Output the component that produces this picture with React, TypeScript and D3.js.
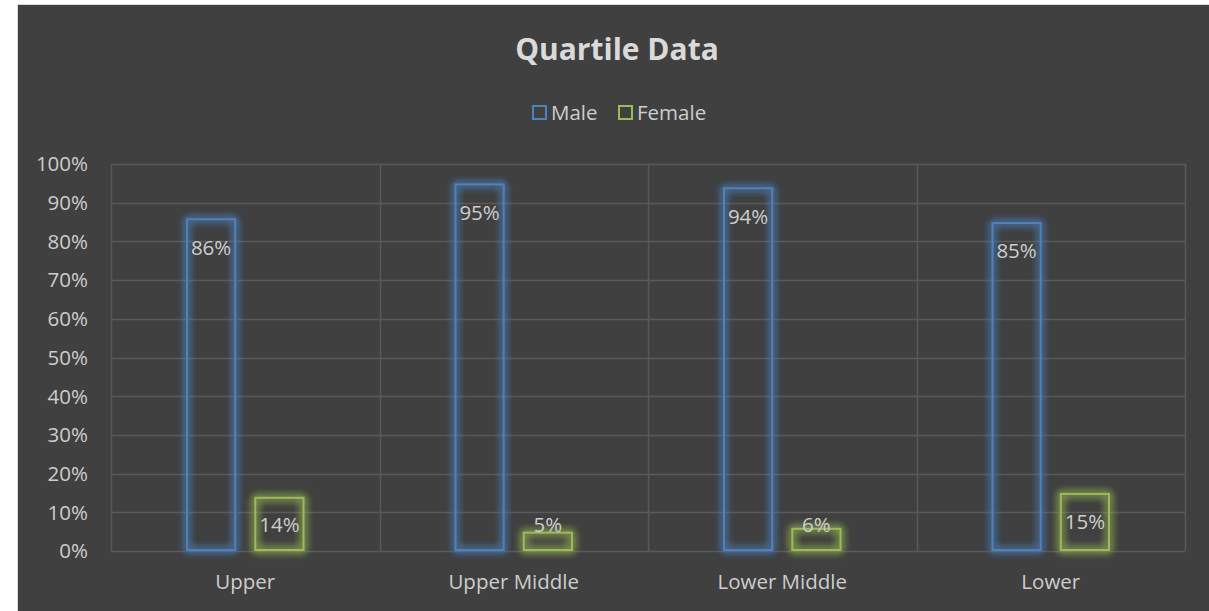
import React, { useEffect, useRef } from 'react';
import * as d3 from 'd3';

const categories = ['Upper', 'Upper Middle', 'Lower Middle', 'Lower'];
const male = [0.86, 0.95, 0.94, 0.85];
const female = [0.14, 0.05, 0.06, 0.15];
const yTicks = [0, 0.1, 0.2, 0.3, 0.4, 0.5, 0.6, 0.7, 0.8, 0.9, 1];
const seriesNames = ['Male', 'Female'];

const W = 1209;
const H = 611;
const FONT = '"Open Sans", "Segoe UI", sans-serif';
const FS = 20.5;

const App = () => {
    const ref = useRef<SVGSVGElement>(null);

    useEffect(() => {
        const svg = d3.select(ref.current);
        svg.selectAll('*').remove();

        const colors = ['#4f81bd', '#9bbb59'];
        const textColor = '#cdcdcd';
        const gridColor = '#5a5a5a';

        const defs = svg.append('defs');
        colors.forEach((c, i) => {
            const f = defs.append('filter')
                .attr('id', `glow${i}`)
                .attr('x', '-50%').attr('y', '-50%')
                .attr('width', '200%').attr('height', '200%');
            f.append('feGaussianBlur')
                .attr('in', 'SourceGraphic')
                .attr('stdDeviation', 4)
                .attr('result', 'blur');
            const m = f.append('feMerge');
            m.append('feMergeNode').attr('in', 'blur');
            m.append('feMergeNode').attr('in', 'blur');
            m.append('feMergeNode').attr('in', 'blur');
            m.append('feMergeNode').attr('in', 'SourceGraphic');
        });

        // chart area background + border
        svg.append('rect')
            .attr('x', 17.5).attr('y', 4.5)
            .attr('width', W).attr('height', H)
            .attr('fill', '#404040')
            .attr('stroke', '#d9d9d9')
            .attr('stroke-width', 1);

        const left = 111, right = 1185, top = 164, bottom = 551;

        const x = d3.scaleBand<string>()
            .domain(categories)
            .range([left, right])
            .paddingInner(0)
            .paddingOuter(0);

        const inner = d3.scaleBand<string>()
            .domain(seriesNames)
            .range([75, x.bandwidth() - 75])
            .paddingInner(0.265);

        const y = d3.scaleLinear().domain([0, 1]).range([bottom, top]);

        // horizontal gridlines
        svg.append('g').selectAll('line')
            .data(yTicks)
            .enter().append('line')
            .attr('x1', left).attr('x2', right)
            .attr('y1', d => Math.round(y(d)) + 0.5)
            .attr('y2', d => Math.round(y(d)) + 0.5)
            .attr('stroke', gridColor)
            .attr('stroke-width', 1.5);

        // vertical category dividers
        const dividers = categories.map(c => x(c) as number).concat([right]);
        svg.append('g').selectAll('line')
            .data(dividers)
            .enter().append('line')
            .attr('x1', d => Math.round(d) + 0.5)
            .attr('x2', d => Math.round(d) + 0.5)
            .attr('y1', top).attr('y2', bottom)
            .attr('stroke', gridColor)
            .attr('stroke-width', 1.5);

        // y tick labels
        svg.append('g').selectAll('text')
            .data(yTicks)
            .enter().append('text')
            .attr('x', 88)
            .attr('y', d => y(d))
            .attr('dy', '0.36em')
            .attr('text-anchor', 'end')
            .attr('fill', textColor)
            .attr('font-family', FONT)
            .attr('font-size', FS)
            .text(d => d3.format('.0%')(d));

        // category labels
        svg.append('g').selectAll('text')
            .data(categories)
            .enter().append('text')
            .attr('x', d => (x(d) as number) + x.bandwidth() / 2)
            .attr('y', 582)
            .attr('dy', '0.36em')
            .attr('text-anchor', 'middle')
            .attr('fill', textColor)
            .attr('font-family', FONT)
            .attr('font-size', FS)
            .text(d => d);

        const series = [male, female];
        series.forEach((vals, si) => {
            const g = svg.append('g');
            const bw = inner.bandwidth();
            g.selectAll('rect')
                .data(vals)
                .enter().append('rect')
                .attr('x', (d, i) => (x(categories[i]) as number) + (inner(seriesNames[si]) as number) + 1)
                .attr('y', d => y(d) + 1)
                .attr('width', bw - 2)
                .attr('height', d => y(0) - y(d) - 2)
                .attr('fill', 'none')
                .attr('stroke', colors[si])
                .attr('stroke-width', 2)
                .attr('filter', `url(#glow${si})`);

            g.selectAll('text')
                .data(vals)
                .enter().append('text')
                .attr('x', (d, i) => (x(categories[i]) as number) + (inner(seriesNames[si]) as number) + bw / 2)
                .attr('y', d => Math.min(y(d) + 29, y(0) - 26))
                .attr('dy', '0.36em')
                .attr('text-anchor', 'middle')
                .attr('fill', textColor)
                .attr('font-family', FONT)
                .attr('font-size', FS)
                .text(d => d3.format('.0%')(d));
        });

        // title
        svg.append('text')
            .attr('x', 617)
            .attr('y', 60)
            .attr('text-anchor', 'middle')
            .attr('fill', '#dadada')
            .attr('font-family', FONT)
            .attr('font-weight', 'bold')
            .attr('font-size', 30)
            .text('Quartile Data');

        // legend
        const legendX = [532, 618];
        seriesNames.forEach((name, i) => {
            svg.append('rect')
                .attr('x', legendX[i] + 1)
                .attr('y', 106)
                .attr('width', 13)
                .attr('height', 13)
                .attr('fill', 'none')
                .attr('stroke', colors[i])
                .attr('stroke-width', 2);
            svg.append('text')
                .attr('x', legendX[i] + 19)
                .attr('y', 112.5)
                .attr('dy', '0.36em')
                .attr('fill', textColor)
                .attr('font-family', FONT)
                .attr('font-size', FS)
                .text(name);
        });
    }, []);

    return (
        <div style={{ position: 'absolute', left: 0, top: 0, width: W, height: H, background: '#fff', overflow: 'hidden' }}>
            <svg ref={ref} width={W} height={H} style={{ display: 'block' }}></svg>
        </div>
    );
};

export default App;
